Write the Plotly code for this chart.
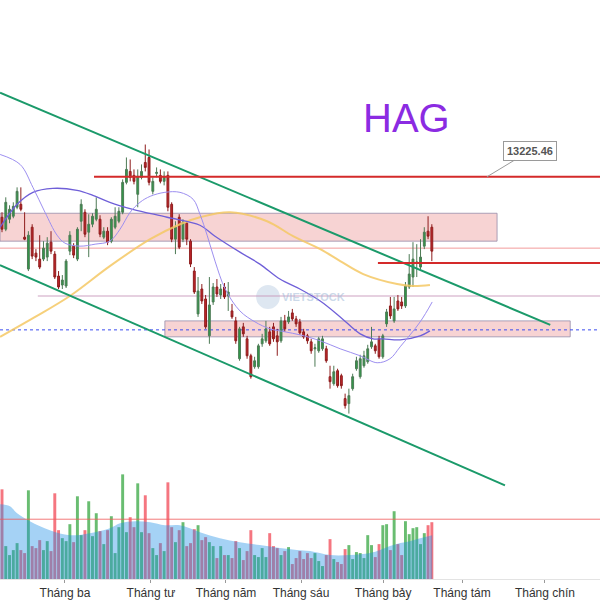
import plotly.graph_objects as go

# ---------------- DATA ----------------
opens = [12820,12700,12800,12830,12920,12950,12620,12300,12720,12460,12400,12400,12420,12570,12450,12230,12140,12130,12480,12530,
         12400,12780,12870,12670,12750,12800,12800,12620,12680,12580,12720,12780,12870,13170,13280,13240,13050,13220,13370,13420,
         13080,13260,13240,13180,13240,12950,12600,12820,12600,12760,12580,12280,11850,12100,12000,11630,11970,12120,12040,12120,
         12030,11880,11780,11400,11720,11600,11430,11320,11320,11550,11580,11670,11720,11630,11580,11780,11770,11860,11800,11770,
         11670,11630,11570,11500,11480,11500,11500,11220,11150,11280,11230,11000,10950,11100,11300,11220,11330,11370,11520,11530,
         11600,11420,11750,11930,11780,11980,11970,11930,12120,12220,12360,12320,12530,12680,12720]
highs = [12870,13020,12940,12970,13120,13120,12870,12680,12750,12500,12640,12580,12620,12680,12480,12280,12240,12400,12680,12560,
         12720,13000,12900,12850,12860,13020,12840,12720,12720,12820,12920,12920,13200,13420,13400,13300,13300,13350,13550,13500,
         13220,13320,13300,13280,13280,12970,12780,12850,12800,12780,12600,12320,12220,12150,12040,12220,12160,12200,12150,12160,
         12170,11950,11820,11720,11760,11630,11450,11420,11550,11650,11780,11720,11760,11700,11820,11840,11880,11900,11830,11800,
         11700,11650,11600,11550,11620,11630,11530,11330,11330,11300,11250,11050,11100,11250,11420,11440,11480,11540,11720,11550,
         11630,11650,11900,12020,12020,12040,12020,12170,12450,12570,12550,12600,12720,12830,12750]
lows = [12670,12680,12760,12810,12900,12880,12590,12280,12400,12380,12300,12380,12380,12450,12200,12100,12100,12110,12440,12410,
        12380,12680,12620,12420,12720,12780,12620,12600,12540,12560,12700,12760,12850,13150,13180,13150,12920,13200,13280,13140,
        13050,13220,13160,13140,12880,12570,12450,12500,12570,12540,12320,12050,11820,11950,11700,11550,11940,12020,12000,12000,
        11880,11800,11550,11380,11620,11400,11200,11300,11300,11520,11560,11530,11570,11430,11560,11670,11750,11780,11720,11640,
        11600,11550,11450,11320,11460,11480,11360,11100,11130,11110,11100,10900,10850,11080,11280,11200,11310,11350,11500,11450,
        11400,11400,11720,11800,11760,11880,11900,11910,12100,12120,12220,12300,12500,12600,12380]
closes = [12700,12970,12900,12930,13080,12900,12600,12640,12430,12420,12320,12510,12560,12480,12220,12120,12190,12380,12640,12440,
          12700,12950,12650,12750,12830,12900,12650,12680,12570,12800,12830,12880,13170,13300,13220,13180,13230,13280,13320,13170,
          13180,13270,13180,13230,12920,12600,12720,12520,12770,12600,12350,12070,12080,11980,11720,11940,12120,12050,12100,12020,
          12070,11820,11580,11700,11650,11430,11220,11380,11530,11600,11700,11550,11600,11570,11780,11700,11820,11800,11750,11660,
          11620,11580,11480,11510,11600,11600,11380,11170,11270,11130,11130,10930,11030,11220,11380,11400,11430,11500,11570,11480,
          11420,11630,11870,11830,11900,11900,11930,12130,12250,12400,12370,12420,12670,12630,12480]

# volume, million shares
volumes = [22.5,8.25,6,7.25,9,7.25,6.5,22.25,8.25,7.75,9.75,7.25,9.5,7,21.5,12.25,10.25,9.5,13.75,9.25,
           20.75,11,12.25,19.5,10.75,16.5,12,8.75,12.25,15.75,6.5,13,26.25,11.75,15.5,13,24,11.75,21,11.5,
           7.75,6,9,7,24.25,13,9.25,12.25,14.25,8.25,9,12.5,13.5,9.75,10.5,9.25,8.25,5.25,8.25,6,
           6,5.25,9.5,7.75,4.75,7,12.25,6,5.5,7.75,5.5,11.5,8.25,7.75,6,7,8,3.75,5.25,7,
           5,6.5,5.25,6.5,4.5,3.25,6,10,5,4.25,3.75,7.5,8.5,5,6.75,6.5,5.25,11,8.5,5.5,
           8.75,13.5,13.75,7.25,17,8.75,6,14.5,11.25,12.75,13,8.75,11.5,13.5,14.25]

# moving averages (bar index, value)
ma20_x = [-0.5,4.8,8.2,11.4,14.6,16.7,20.7,24.7,28.6,31.3,34.0,36.6,39.3,43.2,47.2,50.7,52.5,54.4,56.5,59.2,63.1,67.1,71.1,75.1,79.0,84.4,89.7,95.0,99.5,102.9,105.6,110.9,114.1]
ma20_y = [13450,13350,13120,12870,12640,12560,12530,12550,12580,12700,12870,12970,13030,13070,13070,13000,12850,12640,12380,12100,11880,11770,11700,11670,11640,11580,11500,11430,11360,11400,11520,11770,11970]
ma50_x = [-0.5,4.0,8.2,13.5,19.9,24.1,28.6,34.7,43.8,52.5,56.5,63.1,68.4,73.7,79.0,84.4,89.7,95.0,98.4,101.1,105.6,110.9,113.5]
ma50_y = [12720,12950,13070,13110,13090,13040,12970,12900,12820,12740,12630,12470,12350,12200,12100,11980,11820,11650,11600,11600,11590,11630,11680]
ma200_x = [-0.5,8.8,18.0,28.6,39.3,47.2,52.5,60.5,70.3,77.2,84.4,89.7,95.8,104.8,109.0,113.5]
ma200_y = [11620,11820,12030,12330,12600,12750,12820,12870,12780,12630,12500,12380,12250,12150,12130,12140]
vma_x = [-0.5,2.1,4.0,7.4,12.7,18.0,23.3,28.6,31.3,35.3,39.3,43.2,47.2,52.5,57.8,63.1,68.4,73.7,78.2,81.7,87.0,92.3,97.6,100.3,102.9,105.6,108.2,110.9,114.1]
vma_y = [18.75,18.25,16.5,14.5,12.25,11,11.5,12.75,14,14.5,14.25,13.5,13.5,11.75,10.25,9.25,8.5,7.75,7.25,7,6,6,6.5,7.25,8.25,9,9.5,10.25,11]

month_pos = [16.7, 39.5, 59.4, 79.3, 101.1, 122.0, 144.0]
month_labels = ["Tháng ba", "Tháng tư", "Tháng năm", "Tháng sáu", "Tháng bảy", "Tháng tám", "Tháng chín"]

resist_price = 13225.46
level2 = 12360
zone1 = (12580, 12860)
zone2 = (11620, 11780)
pink_level = 12510
mauve_level = 12030
blue_level = 11690
vol_level = 15.0
chan_up = ((-0.53, 14070), (145.4, 11740))
chan_lo = ((-0.53, 12340), (133.4, 10130))

X0, X1 = -0.53, 158.6
idx = list(range(len(closes)))

fig = go.Figure()

# volume bars
vcol = ['rgb(105,189,113)' if c >= o else 'rgb(245,118,128)' for o, c in zip(opens, closes)]
fig.add_trace(go.Bar(x=idx, y=volumes, marker=dict(color=vcol, line=dict(width=0)), yaxis='y2', width=0.78))
fig.add_trace(go.Scatter(x=vma_x, y=vma_y, mode='lines', line=dict(color='rgba(60,150,240,0.0)', width=0, shape='spline'),
                         fill='tozeroy', fillcolor='rgba(30,142,230,0.40)', yaxis='y2'))

# moving averages
fig.add_trace(go.Scatter(x=ma200_x, y=ma200_y, mode='lines', line=dict(color='rgba(245,200,100,0.85)', width=2, shape='spline')))
fig.add_trace(go.Scatter(x=ma50_x, y=ma50_y, mode='lines', line=dict(color='#6f5fd8', width=1.3, shape='spline')))
fig.add_trace(go.Scatter(x=ma20_x, y=ma20_y, mode='lines', line=dict(color='#9d8ff0', width=1, shape='spline')))

# candles
fig.add_trace(go.Candlestick(x=idx, open=opens, high=highs, low=lows, close=closes,
                             increasing=dict(line=dict(color='#4d7a55', width=1), fillcolor='#2f9a48'),
                             decreasing=dict(line=dict(color='#8e1c1c', width=1), fillcolor='#c0262b'),
                             whiskerwidth=0))

shapes = []
# zones
shapes.append(dict(type='rect', xref='x', yref='y', x0=X0, x1=131.3, y0=zone1[0], y1=zone1[1],
                   fillcolor='rgba(235,140,140,0.38)', line=dict(color='rgba(150,140,170,0.8)', width=1), layer='below'))
shapes.append(dict(type='rect', xref='x', yref='y', x0=43.2, x1=150.7, y0=zone2[0], y1=zone2[1],
                   fillcolor='rgba(235,140,140,0.38)', line=dict(color='rgba(150,140,170,0.8)', width=1), layer='below'))
# watermark circle
shapes.append(dict(type='circle', xref='x', yref='y', x0=67.4, x1=73.7, y0=11900, y1=12140,
                   fillcolor='rgba(160,185,215,0.35)', line=dict(width=0), layer='below'))
# levels
shapes.append(dict(type='line', xref='x', yref='y', x0=X0, x1=X1, y0=pink_level, y1=pink_level,
                   line=dict(color='rgba(240,130,130,0.8)', width=1), layer='below'))
shapes.append(dict(type='line', xref='x', yref='y', x0=9.5, x1=X1, y0=mauve_level, y1=mauve_level,
                   line=dict(color='rgba(200,150,185,0.9)', width=1.2), layer='below'))
shapes.append(dict(type='line', xref='x', yref='y', x0=X0, x1=X1, y0=blue_level, y1=blue_level,
                   line=dict(color='#3b4bf0', width=1, dash='dot'), layer='below'))
shapes.append(dict(type='line', xref='x', yref='y2', x0=X0, x1=X1, y0=vol_level, y1=vol_level,
                   line=dict(color='rgba(240,90,90,0.8)', width=1)))
# channel
for (a, b) in (chan_up, chan_lo):
    shapes.append(dict(type='line', xref='x', yref='y', x0=a[0], y0=a[1], x1=b[0], y1=b[1],
                       line=dict(color='#1b9a6a', width=2)))
# red levels
shapes.append(dict(type='line', xref='x', yref='y', x0=24.4, x1=X1, y0=resist_price, y1=resist_price,
                   line=dict(color='#d42a2a', width=2)))
shapes.append(dict(type='line', xref='x', yref='y', x0=99.7, x1=X1, y0=level2, y1=level2,
                   line=dict(color='#d42a2a', width=2)))

annotations = [
    dict(x=128.6, y=resist_price, xref='x', yref='y', text=f"<b>{resist_price:.2f}</b>", showarrow=True,
         arrowhead=0, arrowwidth=1, arrowcolor='#9a9a9a', ax=43, ay=-26,
         font=dict(family='Liberation Sans, Arial', size=11, color='#555'), bgcolor='white',
         bordercolor='#9a9a9a', borderwidth=1, borderpad=3),
    dict(x=107.4, y=13820, xref='x', yref='y', text="HAG", showarrow=False,
         font=dict(family='Liberation Sans, Arial', size=40, color='#8b2be2')),
    dict(x=82.5, y=12020, xref='x', yref='y', text="<b>VIETSTOCK</b>", showarrow=False,
         font=dict(family='Liberation Sans, Arial', size=11, color='rgba(160,185,215,0.55)')),
]

fig.update_layout(
    width=600, height=600,
    margin=dict(l=0, r=0, t=0, b=18),
    paper_bgcolor='white', plot_bgcolor='white',
    showlegend=False, hovermode=False, bargap=0.2,
    shapes=shapes, annotations=annotations,
    xaxis=dict(range=[X0, X1], tickmode='array', tickvals=month_pos, ticktext=month_labels,
               showgrid=False, zeroline=False, ticks='outside', ticklen=3, tickcolor='#999',
               showline=True, linecolor='#e3e3e3', rangeslider=dict(visible=False),
               tickfont=dict(family='Liberation Sans, Arial', size=12, color='#333')),
    yaxis=dict(range=[9190, 15000], visible=False, showgrid=False, zeroline=False),
    yaxis2=dict(range=[0, 145.25], overlaying='y', visible=False, showgrid=False, zeroline=False),
)

fig.write_html("out.html", config={'displayModeBar': False},
               post_script="document.body.style.margin='0px';document.body.style.overflow='hidden';")
